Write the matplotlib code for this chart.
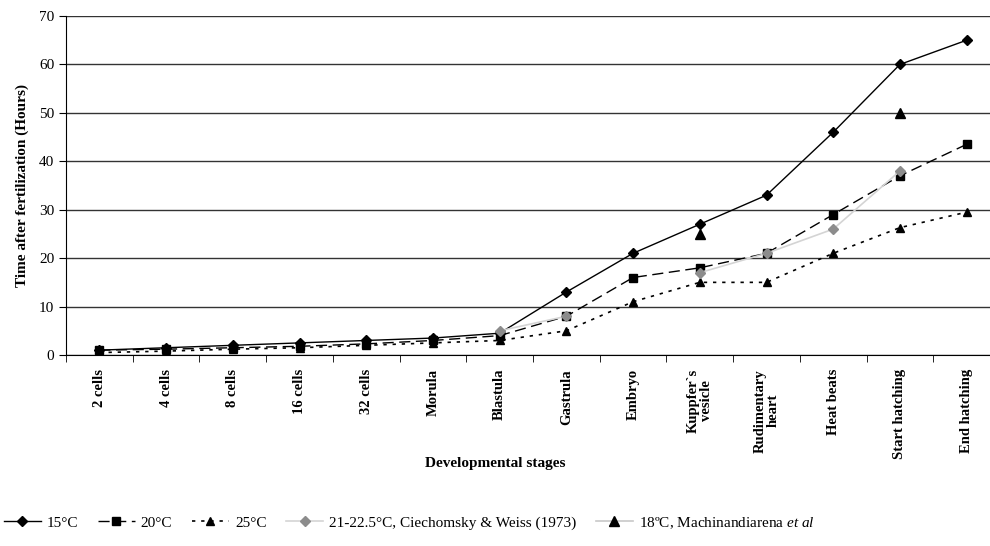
import numpy as np
import matplotlib.pyplot as plt

plt.rcParams['font.family'] = ['Liberation Serif', 'DejaVu Serif']
plt.rcParams['mathtext.fontset'] = 'custom'
plt.rcParams['mathtext.it'] = 'Liberation Serif:italic'
plt.rcParams['mathtext.rm'] = 'Liberation Serif'

stages = ["2 cells", "4 cells", "8 cells", "16 cells", "32 cells", "Morula",
          "Blastula", "Gastrula", "Embryo", "Kuppfer`s\nvesicle",
          "Rudimentary\nheart", "Heat beats", "Start hatching", "End hatching"]

t15 = [1, 1.5, 2, 2.5, 3, 3.5, 4.5, 13, 21, 27, 33, 46, 60, 65]
t20 = [1, 1.2, 1.5, 1.8, 2.3, 3, 4, 8, 16, 18, 21, 29, 37, 43.5]
t25 = [0.5, 0.8, 1.2, 1.5, 2, 2.5, 3, 5, 11, 15, 15, 21, 26.3, 29.5]
ciech = [np.nan, np.nan, np.nan, np.nan, np.nan, np.nan, 5, 8, np.nan, 17, 21, 26, 38, np.nan]
machi = [np.nan, np.nan, np.nan, np.nan, np.nan, np.nan, np.nan, np.nan, np.nan, 25, np.nan, np.nan, 50, np.nan]

x = np.arange(len(stages))

fig = plt.figure(figsize=(9.9, 5.46), dpi=100)
ax = fig.add_axes([66/990, 1-355/546, (1000-66)/990, (355-16)/546])

ax.plot(x, t15, color='black', lw=1, marker='D', ms=5, label='15°C')
ax.plot(x, t20, color='black', lw=1, ls=(0, (8, 4)), marker='s', ms=6, label='20°C')
ax.plot(x, t25, color='black', lw=1.2, ls=(0, (2, 3.5)), marker='^', ms=6, label='25°C')
ax.plot(x, ciech, color='#d4d4d4', lw=1.2, marker='D', ms=5.5,
        mfc='#8c8c8c', mec='#8c8c8c', label='21-22.5°C, Ciechomsky & Weiss (1973)')
ax.plot(x, machi, color='#c8c8c8', lw=1.2, marker='^', ms=7,
        mfc='black', mec='black', label=r'18ºC, Machinandiarena $\it{et\ al}$')

ax.set_xlim(-0.5, len(stages) - 0.5)
ax.set_ylim(0, 70)
ax.set_yticks(range(0, 71, 10))
ax.yaxis.grid(True, color='#333333', lw=1)
ax.set_axisbelow(True)
for s in ['top', 'right']:
    ax.spines[s].set_visible(False)

ax.set_xticks(x)
ax.set_xticklabels(stages, rotation=90, fontweight='bold', fontsize=10.5,
                   va='top', ha='center', linespacing=1.0)
ax.set_xticks(np.arange(-0.5, len(stages), 1), minor=True)
ax.tick_params(axis='x', which='major', length=0, pad=10)
ax.tick_params(axis='x', which='minor', length=5, direction='out')
ax.tick_params(axis='y', length=5, labelsize=11)

ax.set_ylabel('Time after fertilization (Hours)', fontweight='bold', fontsize=11)
ax.yaxis.set_label_coords(-0.0395, 0.5)
fig.text(0.5, 1-463/546, 'Developmental stages', fontweight='bold', fontsize=11,
         ha='center', va='center')

fig.legend(loc='lower left', bbox_to_anchor=(-0.01, 0.003), ncol=5, frameon=False,
           fontsize=11, handlelength=2.4, handletextpad=0.4, columnspacing=1.3)

fig.savefig('out.png', dpi=100)
